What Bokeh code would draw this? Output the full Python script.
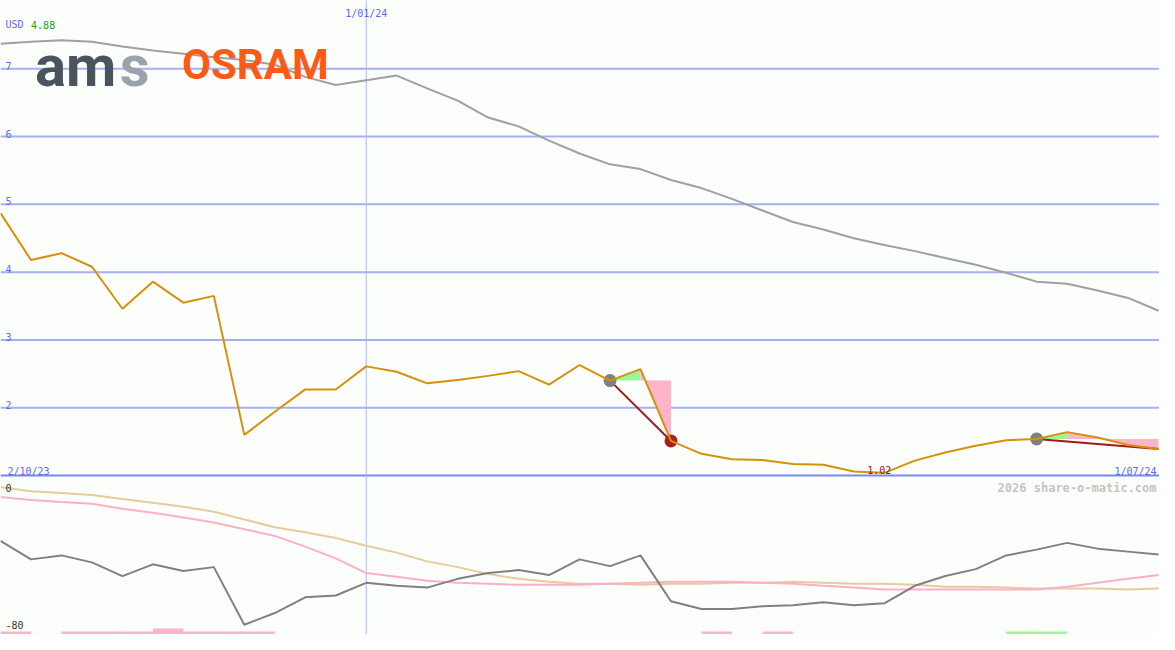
from bokeh.plotting import figure
from bokeh.models import Range1d, Label, Span
from bokeh.embed import file_html
from bokeh.resources import INLINE

# ---------------- data (weekly, week 0 = left edge) ----------------
weeks = list(range(39))
price = [4.87, 4.18, 4.28, 4.08, 3.46, 3.86, 3.55, 3.65, 1.60, 1.94,
         2.27, 2.27, 2.61, 2.53, 2.36, 2.41, 2.47, 2.54, 2.34, 2.63,
         2.40, 2.57, 1.51, 1.32, 1.24, 1.23, 1.17, 1.16, 1.06, 1.04,
         1.22, 1.34, 1.44, 1.52, 1.54, 1.64, 1.56, 1.45, 1.39]
ma_long = [7.37, 7.40, 7.42, 7.40, 7.33, 7.27, 7.22, 7.17, 7.13, 7.06,
           6.88, 6.76, 6.83, 6.90, 6.71, 6.53, 6.28, 6.15, 5.94, 5.75,
           5.59, 5.52, 5.36, 5.24, 5.08, 4.91, 4.74, 4.63, 4.50, 4.40,
           4.31, 4.21, 4.11, 3.99, 3.86, 3.83, 3.73, 3.62, 3.43]
osc = [-32.9, -42.2, -40.2, -43.7, -50.6, -44.7, -48.1, -46.1, -75.1, -69.2,
       -61.3, -60.4, -54.0, -55.5, -56.4, -52.0, -49.1, -47.6, -50.1, -42.2,
       -45.6, -40.2, -63.3, -67.2, -67.2, -65.8, -65.3, -63.8, -65.3, -64.3,
       -55.5, -50.6, -47.1, -40.2, -37.3, -33.9, -36.8, -38.3, -39.8]
osc_slow = [-5.9, -7.9, -8.8, -9.8, -11.8, -13.7, -15.7, -18.2, -22.1, -26.0,
            -28.5, -31.4, -35.3, -38.8, -43.2, -46.1, -49.6, -52.0, -53.5, -54.5,
            -54.5, -55.0, -54.5, -54.5, -54.0, -54.0, -53.5, -54.0, -54.5, -54.5,
            -55.0, -56.0, -56.0, -56.4, -56.9, -56.9, -56.9, -57.4, -56.9]
osc_mid = [-10.8, -12.3, -13.3, -14.2, -16.7, -18.7, -21.1, -23.6, -27.0, -30.4,
           -35.8, -41.7, -49.1, -51.0, -53.0, -54.0, -54.5, -55.0, -55.0, -55.0,
           -54.5, -54.0, -53.5, -53.5, -53.5, -54.0, -54.5, -55.5, -56.4, -57.4,
           -57.4, -57.4, -57.4, -57.4, -57.4, -56.0, -54.0, -52.0, -50.1]
bar_pink_weeks = [0, 2, 3, 4, 5, 6, 7, 8, 23, 25]
bar_pink_h = [1.5, 1.5, 1.5, 1.5, 3.0, 1.5, 1.5, 1.5, 1.5, 1.5]
bar_green_weeks = [33, 34]
bar_green_h = [1.5, 1.5]
sig_entry = [20, 34]
sig_peak = [21, 35]
sig_exit = [22, 38]
sig_closed = [True, False]
y_ticks = [2, 3, 4, 5, 6, 7]
ind_labels = [0, -80]
date_mark_week = 12
date_mark_label = "1/01/24"
start_label = "2/10/23"
end_label = "1/07/24"
low_label = "1.02"
currency = "USD"
first_price = "4.88"

# ---------------- layout ----------------
W, H = 1159, 634
SX, SY = W / 1175.0, H / 650.0
BG = "#fcfefc"
MONO = "DejaVu Sans Mono"


def sx(x):
    return x * SX


def sy(y):
    return (650 - y) * SY


p = figure(width=W, height=H, output_backend="svg", toolbar_location=None,
           x_range=Range1d(0, 38.03), y_range=Range1d(-1.345, 8.007),
           x_axis_type=None, y_axis_type=None, min_border=0,
           background_fill_color=BG, border_fill_color=BG,
           outline_line_color=None)
p.grid.visible = False
p.extra_y_ranges = {"ind": Range1d(-80, 239.0)}

# grid lines
for v in y_ticks:
    p.add_layout(Span(location=v, dimension="width", line_color="#a4b0f4",
                      line_width=2, level="underlay"))
p.add_layout(Span(location=1, dimension="width", line_color="#7888f0",
                  line_width=2, level="underlay"))
p.add_layout(Span(location=date_mark_week, dimension="height",
                  line_color="#a8b8f8", line_width=1, level="underlay"))

# lower panel indicators
p.quad(left=bar_pink_weeks, right=[w + 1 for w in bar_pink_weeks],
       bottom=-80, top=[-80 + h for h in bar_pink_h],
       fill_color="#fcb4c8", line_color=None, y_range_name="ind")
p.quad(left=bar_green_weeks, right=[w + 1 for w in bar_green_weeks],
       bottom=-80, top=[-80 + h for h in bar_green_h],
       fill_color="#98f898", line_color=None, y_range_name="ind")
p.line(weeks, osc_slow, line_color="#e4cc9c", line_width=2, y_range_name="ind")
p.line(weeks, osc_mid, line_color="#fcb0c8", line_width=2, y_range_name="ind")
p.line(weeks, osc, line_color="#808080", line_width=2, y_range_name="ind")

# upper panel
p.line(weeks, ma_long, line_color="#a0a0a0", line_width=2)

for e, pk, x, closed in zip(sig_entry, sig_peak, sig_exit, sig_closed):
    lvl = price[e]
    gx = list(range(e, pk + 1)) + [pk]
    gy = [price[i] for i in range(e, pk + 1)] + [lvl]
    p.patch(gx, gy, fill_color="#98f898", line_color=None)
    rx = [pk, x] + list(range(x, pk - 1, -1))
    ry = [lvl, lvl] + [price[i] for i in range(x, pk - 1, -1)]
    p.patch(rx, ry, fill_color="#fcb4c8", line_color=None)
    p.line([e, x], [price[e], price[x]], line_color="#a01818", line_width=2)
    p.scatter([e], [price[e]], size=13, fill_color="#808080", line_color=None)
    if closed:
        p.scatter([x], [price[x]], size=13, fill_color="#aa2020", line_color=None)

p.line(weeks, price, line_color="#d8900c", line_width=2)

# ---------------- texts ----------------
AL = "alphabetic"
for v in y_ticks:
    p.add_layout(Label(x=0, y=v, x_offset=5, y_offset=3, text=str(v),
                       text_font=MONO, text_font_size="10px",
                       text_color="#5a6af0", text_baseline=AL))


def slabel(x, y, text, color, size="10px", align="left", style="normal",
           font=MONO):
    p.add_layout(Label(x=sx(x), y=sy(y), x_units="screen", y_units="screen",
                       text=text, text_font=font, text_font_size=size,
                       text_color=color, text_align=align,
                       text_font_style=style, text_baseline=AL))


slabel(5, 25, currency, "#5a6af0")
slabel(31, 25, first_price, "#22a022")
p.add_layout(Label(x=date_mark_week, y=sy(13), y_units="screen",
                   text=date_mark_label, text_font=MONO, text_font_size="10px",
                   text_color="#5a6af0", text_align="center", text_baseline=AL))
slabel(7, 483, start_label, "#5a6af0")
slabel(1172, 483, end_label, "#5a6af0", align="right")
imin = price.index(min(price))
p.add_layout(Label(x=imin, y=min(price), x_offset=-5, y_offset=3,
                   text=low_label, text_font=MONO, text_font_size="10px",
                   text_color="#a01818", text_align="center", text_baseline=AL))
slabel(1172, 500, "2026 share-o-matic.com", "#c4c4c4", size="12px",
       align="right", style="bold")
slabel(5, 500, str(ind_labels[0]), "#333333")
slabel(5, 640, str(ind_labels[1]), "#333333")

# logo
slabel(35, 67, "am", "#4a545e", size="58px", style="bold", font="Roboto")
slabel(121, 67, "s", "#9aa2aa", size="58px", style="bold", font="Roboto")
slabel(184, 66, "OSRAM", "#ff5a14", size="42px", style="bold", font="Roboto")

open("out.html", "w").write(file_html(p, INLINE))
